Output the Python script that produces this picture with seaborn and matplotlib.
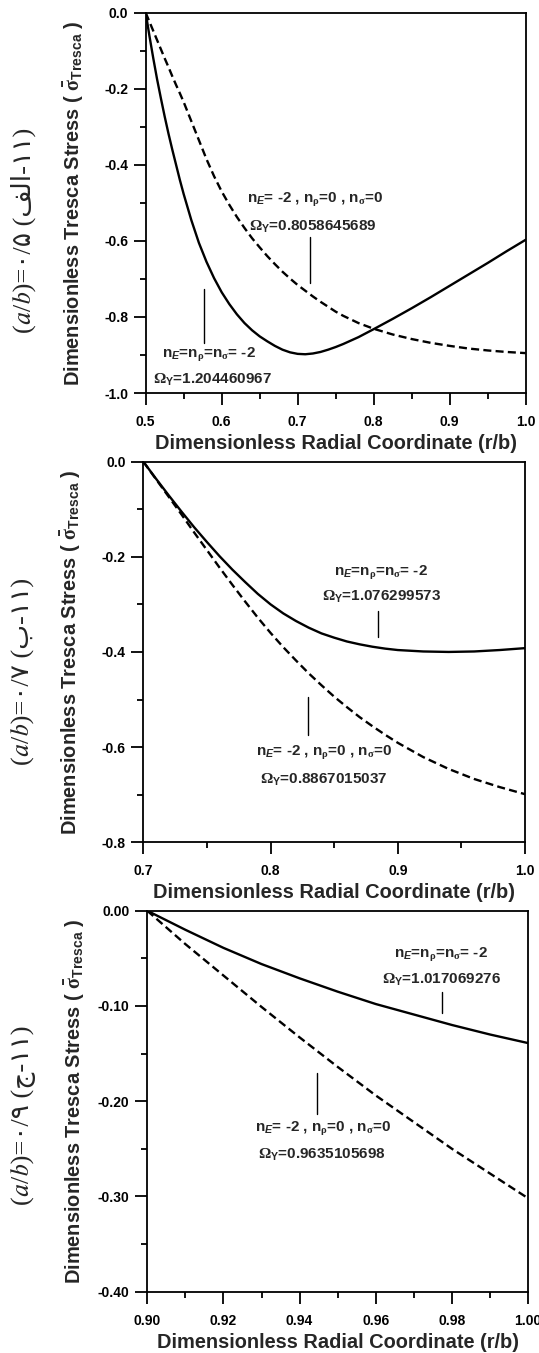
import numpy as np
import pandas as pd
import matplotlib.pyplot as plt
import matplotlib.ticker as mticker
import seaborn as sns

# ---- data (r/b vs dimensionless Tresca stress) ----
# panel (a): a/b = 0.5
r_a = [0.50, 0.505, 0.51, 0.515, 0.52, 0.525, 0.53, 0.535, 0.54, 0.545, 0.55, 0.56, 0.57,
       0.58, 0.59, 0.60, 0.61, 0.62, 0.63, 0.64, 0.65, 0.66, 0.67, 0.68, 0.69, 0.70, 0.71,
       0.72, 0.73, 0.74, 0.75, 0.76, 0.78, 0.80, 0.825, 0.85, 0.875, 0.90, 0.925, 0.95,
       0.975, 1.00]
fgm_a = [0.0, -0.062, -0.12, -0.175, -0.225, -0.273, -0.318, -0.36, -0.40, -0.44, -0.477,
         -0.545, -0.605, -0.655, -0.698, -0.735, -0.766, -0.793, -0.816, -0.835, -0.851,
         -0.864, -0.876, -0.886, -0.893, -0.897, -0.898, -0.896, -0.892, -0.886, -0.879,
         -0.871, -0.853, -0.832, -0.805, -0.777, -0.748, -0.718, -0.688, -0.658, -0.627,
         -0.597]
e_a = [0.0, -0.024, -0.048, -0.072, -0.096, -0.12, -0.143, -0.167, -0.19, -0.212, -0.235,
       -0.285, -0.335, -0.385, -0.43, -0.47, -0.505, -0.537, -0.566, -0.593, -0.617, -0.64,
       -0.661, -0.681, -0.699, -0.716, -0.731, -0.746, -0.76, -0.773, -0.786, -0.797,
       -0.816, -0.831, -0.846, -0.858, -0.868, -0.876, -0.883, -0.888, -0.892, -0.895]

# panel (b): a/b = 0.7
r_b = [0.70, 0.71, 0.72, 0.73, 0.74, 0.75, 0.76, 0.77, 0.78, 0.79, 0.80, 0.81, 0.82, 0.83,
       0.84, 0.85, 0.86, 0.87, 0.88, 0.89, 0.90, 0.92, 0.94, 0.96, 0.98, 1.00]
fgm_b = [0.0, -0.036, -0.071, -0.105, -0.138, -0.169, -0.199, -0.227, -0.253, -0.278, -0.300,
         -0.319, -0.335, -0.349, -0.361, -0.370, -0.378, -0.384, -0.389, -0.393, -0.396,
         -0.399, -0.400, -0.399, -0.396, -0.392]
e_b = [0.0, -0.037, -0.074, -0.111, -0.149, -0.186, -0.223, -0.259, -0.294, -0.328, -0.360,
       -0.390, -0.418, -0.445, -0.470, -0.494, -0.516, -0.537, -0.556, -0.574, -0.591,
       -0.621, -0.646, -0.667, -0.684, -0.699]

# panel (c): a/b = 0.9
r_c = [0.90, 0.91, 0.92, 0.93, 0.94, 0.95, 0.96, 0.97, 0.98, 0.99, 1.00]
fgm_c = [0.0, -0.020, -0.039, -0.056, -0.071, -0.085, -0.098, -0.109, -0.120, -0.130, -0.139]
e_c = [0.0, -0.035, -0.068, -0.101, -0.133, -0.164, -0.194, -0.222, -0.250, -0.276, -0.302]

lab_fgm = r"n$_{\mathsf{E}}$=n$_{\mathcal{\rho}}$=n$_{\mathcal{\sigma}}$= -2"
lab_e = r"n$_{\mathsf{E}}$= -2 , n$_{\mathcal{\rho}}$=0 , n$_{\mathcal{\sigma}}$=0"
omega_fgm = ["1.204460967", "1.076299573", "1.017069276"]
omega_e = ["0.8058645689", "0.8867015037", "0.9635105698"]
side_labels = ["(\U0001D44E/\U0001D44F)=\u06F0/\u06F5 (\uFED2\uFEDF\u0627-\u06F1\u06F1)",
               "(\U0001D44E/\U0001D44F)=\u06F0/\u06F7 (\uFE8F-\u06F1\u06F1)",
               "(\U0001D44E/\U0001D44F)=\u06F0/\u06F9 (\uFE9D-\u06F1\u06F1)"]

sns.set_style("ticks")
plt.rcParams.update({
    "font.family": "Liberation Sans",
    "font.weight": "bold",
    "mathtext.fontset": "custom",
    "mathtext.rm": "Liberation Sans:bold",
    "mathtext.bf": "Liberation Sans:bold",
    "mathtext.it": "Liberation Serif:italic",
    "mathtext.sf": "Liberation Sans:bold:italic",
    "mathtext.cal": "Liberation Serif",
    "mathtext.tt": "Liberation Sans",
    "axes.linewidth": 1.3,
    "xtick.major.width": 1.3, "ytick.major.width": 1.3,
    "xtick.minor.width": 1.3, "ytick.minor.width": 1.3,
    "xtick.major.size": 8.4, "ytick.major.size": 8.4,
    "xtick.minor.size": 4.3, "ytick.minor.size": 4.3,
    "xtick.direction": "out", "ytick.direction": "out",
    "xtick.major.pad": 7.5, "ytick.major.pad": 4.3,
    "xtick.labelsize": 10, "ytick.labelsize": 10,
    "xtick.color": "black", "ytick.color": "black",
    "axes.edgecolor": "black",
})

fig = plt.figure(figsize=(5.39, 13.53), dpi=100)

panels = [
    dict(pos=[0.2703, 0.7095, 0.7050, 0.2811], r=r_a, fgm=fgm_a, e=e_a,
         xlim=(0.5, 1.0), ylim=(-1.0, 0.0), xmaj=0.1, xmin=0.05, ymaj=0.2, ymin=0.1,
         xfmt="%.1f", yfmt="%.1f",
         t_fgm=(0.5835, -0.900), o_fgm=(0.588, -0.966), p_fgm=(0.5771, -0.727, -0.868),
         t_e=(0.7228, -0.4925), o_e=(0.720, -0.563), p_e=(0.716, -0.591, -0.710),
         side_y=0.830),
    dict(pos=[0.2659, 0.3775, 0.7082, 0.2813], r=r_b, fgm=fgm_b, e=e_b,
         xlim=(0.7, 1.0), ylim=(-0.8, 0.0), xmaj=0.1, xmin=0.05, ymaj=0.2, ymin=0.1,
         xfmt="%.1f", yfmt="%.1f",
         t_fgm=(0.8867, -0.2346), o_fgm=(0.887, -0.2837), p_fgm=(0.8842, -0.313, -0.368),
         t_e=(0.8422, -0.613), o_e=(0.8416, -0.669), p_e=(0.8297, -0.494, -0.5745),
         side_y=0.504),
    dict(pos=[0.2731, 0.0453, 0.7069, 0.2816], r=r_c, fgm=fgm_c, e=e_c,
         xlim=(0.9, 1.0), ylim=(-0.4, 0.0), xmaj=0.02, xmin=0.01, ymaj=0.1, ymin=0.05,
         xfmt="%.2f", yfmt="%.2f",
         t_fgm=(0.977, -0.0465), o_fgm=(0.9772, -0.0728), p_fgm=(0.9773, -0.085, -0.107),
         t_e=(0.9462, -0.2295), o_e=(0.9459, -0.2565), p_e=(0.9446, -0.170, -0.2137),
         side_y=0.176),
]

for i, p in enumerate(panels):
    ax = fig.add_axes(p["pos"])
    df = pd.DataFrame({"r": p["r"], "fgm": p["fgm"], "e": p["e"]})
    sns.lineplot(data=df, x="r", y="fgm", ax=ax, color="black", lw=1.7,
                 estimator=None, sort=False)
    sns.lineplot(data=df, x="r", y="e", ax=ax, color="black", lw=1.7,
                 linestyle=(0, (3.4, 1.8)), estimator=None, sort=False)

    ax.set_xlim(*p["xlim"])
    ax.set_ylim(*p["ylim"])
    ax.xaxis.set_major_locator(mticker.MultipleLocator(p["xmaj"]))
    ax.xaxis.set_minor_locator(mticker.MultipleLocator(p["xmin"]))
    ax.yaxis.set_major_locator(mticker.MultipleLocator(p["ymaj"]))
    ax.yaxis.set_minor_locator(mticker.MultipleLocator(p["ymin"]))
    ax.xaxis.set_major_formatter(mticker.FormatStrFormatter(p["xfmt"]))
    ax.yaxis.set_major_formatter(mticker.FormatStrFormatter(p["yfmt"]))
    for sp in ax.spines.values():
        sp.set_visible(True)
        sp.set_linewidth(1.3)
    ax.tick_params(which="both", top=False, right=False)

    ax.set_xlabel("Dimensionless Radial Coordinate (r/b)", fontsize=14.4, fontweight="bold")
    ax.set_ylabel(r"Dimensionless Tresca Stress ( $\bar{\mathcal{\sigma}}_{\mathrm{Tresca}}$ )",
                  fontsize=14.4, fontweight="bold")
    ax.xaxis.set_label_coords(0.5, -0.108)
    ax.yaxis.set_label_coords(-0.158, 0.5)

    kw = dict(ha="center", va="center", fontsize=11, fontweight="bold")
    ax.text(*p["t_fgm"], lab_fgm, **kw)
    ax.text(*p["o_fgm"], r"$\mathcal{\Omega}_{\mathtt{Y}}$=" + omega_fgm[i], **kw)
    ax.text(*p["t_e"], lab_e, **kw)
    ax.text(*p["o_e"], r"$\mathcal{\Omega}_{\mathtt{Y}}$=" + omega_e[i], **kw)
    ax.plot([p["p_fgm"][0]] * 2, p["p_fgm"][1:], color="black", lw=1.0)
    ax.plot([p["p_e"][0]] * 2, p["p_e"][1:], color="black", lw=1.0)

    fig.text(0.043, p["side_y"], side_labels[i], rotation=90, ha="center", va="center",
             fontsize=19, fontweight="normal",
             family=["Liberation Serif", "STIXGeneral", "DejaVu Sans"])

fig.savefig("out.png", dpi=100)
